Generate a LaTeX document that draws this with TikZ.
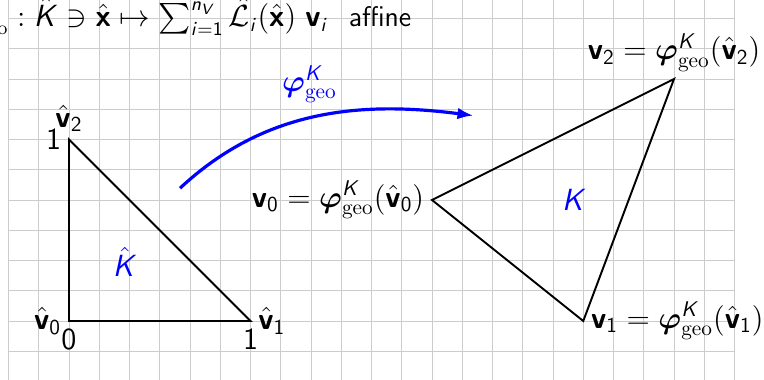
\documentclass[12pt,tikz,border=0pt]{standalone}
\usepackage{amsmath}
\usepackage{exscale}
\usetikzlibrary{arrows.meta}
\DeclareMathAlphabet{\mathsfsl}{OT1}{cmss}{m}{sl}
\DeclareMathAlphabet{\mathsfbx}{OT1}{cmss}{bx}{n}
\DeclareMathAlphabet{\mathsfup}{OT1}{cmss}{m}{n}
\newcommand{\myK}{\mathsfsl{K}}
\newcommand{\myKh}{\hat{\mathsfsl{K}}}
\newcommand{\myvb}[1]{\mathsfbx{v}_{\mathsfup{#1}}}
\newcommand{\myvh}[1]{\hat{\mathsfbx{v}}_{\mathsfup{#1}}}
\newcommand{\myphig}{\boldsymbol{\varphi}^{\myK}_{\mathrm{geo}}}
\begin{document}
\begin{tikzpicture}[x=0.5cm,y=0.5cm,
  gridline/.style={draw=black!20, line width=0.47pt},
  tri/.style={draw=black, line width=0.9pt, line join=miter},
  lbl/.style={font=\sffamily\large, inner sep=3.5pt},
  titletext/.style={font=\sffamily\fontsize{13.35}{16}\selectfont, inner sep=0pt},
  maparrow/.style={draw=blue, line width=1.5pt, -{Latex[length=7.5pt,width=5.5pt]}}]
\useasboundingbox (-2.281,-1.950) rectangle (22.975,10.612);
\draw[gridline, step=1] (-2,-2) grid (22,11);
% reference triangle
\coordinate (hv0) at (0,0);
\coordinate (hv1) at (6,0);
\coordinate (hv2) at (0,6);
\draw[tri] (hv0) -- (hv1) -- (hv2) -- cycle;
% physical triangle
\coordinate (v0) at (12,4);
\coordinate (v1) at (17,0);
\coordinate (v2) at (20,8);
\draw[tri] (v0) -- (v1) -- (v2) -- cycle;
% labels of reference triangle
\node[lbl, left] (lhv0) at (hv0) {$\myvh{0}$};
\node[lbl, below] (lzero) at (hv0) {0};
\node[lbl, below] (lonex) at (hv1) {1};
\node[lbl, right] (lhv1) at (hv1) {$\myvh{1}$};
\node[lbl, left] (loney) at (hv2) {1};
\node[lbl, above] (lhv2) at (hv2) {$\myvh{2}$};
\node[lbl, text=blue] (Khat) at (1.85,1.95) {$\myKh$};
% labels of physical triangle
\node[lbl, left] (lv0) at (v0) {$\myvb{0} = \myphig(\myvh{0})$};
\node[lbl, right] (lv1) at (v1) {$\myvb{1} = \myphig(\myvh{1})$};
\node[lbl, above] (lv2) at (v2) {$\myvb{2} = \myphig(\myvh{2})$};
\node[lbl, text=blue] (Kphys) at (16.7,4) {$\myK$};
% mapping arrow
\coordinate (as) at (3.67,4.39);
\coordinate (ae) at (13.37,6.79);
\draw[maparrow] (as) .. controls (6.45,6.98) and (9.60,7.28) .. (ae);
\node[lbl, text=blue] (lphi) at (7.95,7.83) {$\myphig$};
% title
\node[titletext, anchor=base east] (title) at (11.33,9.73)
  {$\myphig : \myKh \ni \hat{\mathsfbx{x}} \mapsto \sum_{\mathsfsl{i}=\mathsfup{1}}^{\mathsfsl{n}_{\mathsfsl{V}}} \hat{\mathcal{L}}_{\mathsfsl{i}}(\hat{\mathsfbx{x}})\ \mathsfbx{v}_{\mathsfsl{i}}$\hspace{0.72em}affine};
\end{tikzpicture}
\end{document}
